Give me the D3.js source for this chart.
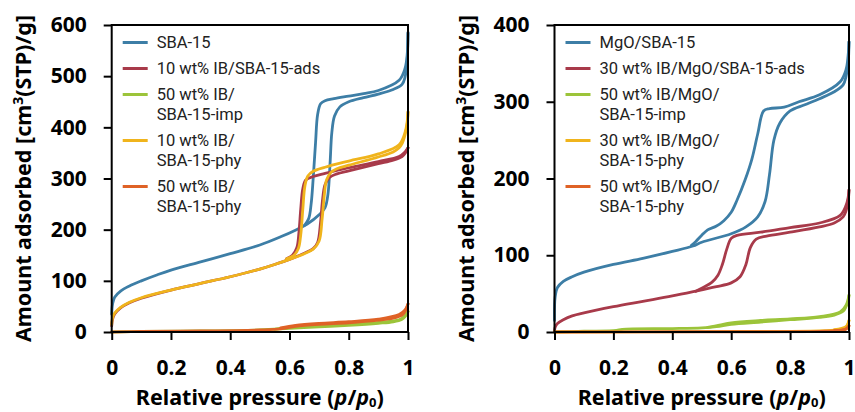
<!DOCTYPE html>
<html>
<head>
<meta charset="utf-8">
<script src="https://cdn.jsdelivr.net/npm/d3@7"></script>
<style>
  body { margin: 0; background: #fff; }
  svg { display: block; }
  .tick text { font-family: "Noto Sans", sans-serif; font-weight: bold; }
</style>
</head>
<body>
<script>
// axis ticks
var pTicks = [0, 0.2, 0.4, 0.6, 0.8, 1];
var leftYTicks = [0, 100, 200, 300, 400, 500, 600];
var rightYTicks = [0, 100, 200, 300, 400];

var palette = ["#3d7ea6", "#a83a4a", "#9cc43a", "#f0b41c", "#df6226"];

var leftLegend = [["SBA-15"], ["10 wt% IB/SBA-15-ads"], ["50 wt% IB/", "SBA-15-imp"],
                  ["10 wt% IB/", "SBA-15-phy"], ["50 wt% IB/", "SBA-15-phy"]];
var rightLegend = [["MgO/SBA-15"], ["30 wt% IB/MgO/SBA-15-ads"], ["50 wt% IB/MgO/", "SBA-15-imp"],
                   ["30 wt% IB/MgO/", "SBA-15-phy"], ["50 wt% IB/MgO/", "SBA-15-phy"]];

// left panel isotherms [p/p0, cm3/g], adsorption and desorption branches
var sba15Ads = [[0,35],[0.003,55],[0.01,68],[0.03,80],[0.06,90],[0.1,100],[0.15,111],[0.2,121],[0.3,137],[0.4,153],
  [0.5,170],[0.57,186],[0.62,199],[0.66,211],[0.7,229],[0.72,243],[0.73,270],[0.737,330],[0.743,390],[0.752,422],
  [0.77,440],[0.8,450],[0.85,458],[0.9,465],[0.95,474],[0.98,484],[0.99,498],[0.997,530],[1,585]];
var sba15Des = [[1,585],[0.997,540],[0.99,515],[0.97,492],[0.9,472],[0.85,466],[0.8,461],[0.75,456],[0.72,452],
  [0.705,446],[0.695,425],[0.688,370],[0.68,300],[0.673,250],[0.665,222],[0.65,208]];
var ib10AdsA = [[0,12],[0.003,25],[0.01,35],[0.03,47],[0.06,57],[0.1,66],[0.2,82],[0.3,95],[0.4,108],[0.5,123],
  [0.55,132],[0.6,142],[0.65,154],[0.68,163],[0.695,175],[0.705,215],[0.712,260],[0.72,288],[0.735,302],[0.76,309],
  [0.8,315],[0.9,329],[0.95,336],[0.98,343],[0.99,349],[1,360]];
var ib10AdsD = [[1,360],[0.99,352],[0.97,343],[0.9,333],[0.8,321],[0.72,310],[0.68,304],[0.655,297],[0.645,280],
  [0.638,240],[0.632,195],[0.625,165],[0.61,150],[0.59,143]];
var ib50ImpA = [[0,0],[0.1,1],[0.3,2],[0.5,4],[0.6,7],[0.7,10],[0.8,13],[0.9,17],[0.95,20],[0.98,25],[0.99,30],[1,40]];
var ib50ImpD = [[1,40],[0.99,32],[0.97,24],[0.9,19],[0.8,15],[0.7,12],[0.6,9],[0.55,5]];
var ib10PhyA = [[0,15],[0.003,28],[0.01,37],[0.03,48],[0.06,58],[0.1,67],[0.2,82],[0.3,95],[0.4,108],[0.5,123],
  [0.55,132],[0.6,142],[0.65,153],[0.68,162],[0.7,178],[0.71,220],[0.718,270],[0.725,297],[0.74,312],[0.76,319],
  [0.8,326],[0.9,342],[0.95,352],[0.97,360],[0.98,368],[0.99,385],[0.997,405],[1,430]];
var ib10PhyD = [[1,430],[0.997,410],[0.99,390],[0.97,366],[0.9,348],[0.8,334],[0.72,322],[0.68,314],[0.662,305],
  [0.652,285],[0.645,240],[0.638,190],[0.63,163],[0.615,150],[0.59,143]];
var ib50PhyA = [[0,0],[0.1,1],[0.3,2],[0.5,4],[0.57,6],[0.62,11],[0.7,15],[0.8,18],[0.9,23],[0.95,27],[0.98,33],
  [0.99,40],[1,55]];
var ib50PhyD = [[1,55],[0.99,43],[0.97,34],[0.9,25],[0.8,20],[0.7,17],[0.62,13],[0.57,8]];

// right panel isotherms
var mgoAds = [[0,15],[0.002,45],[0.01,58],[0.03,66],[0.06,72],[0.1,78],[0.2,88],[0.3,96],[0.4,105],[0.47,112],
  [0.5,117],[0.6,128],[0.65,137],[0.69,150],[0.715,170],[0.73,205],[0.745,250],[0.765,272],[0.8,288],[0.85,296],
  [0.9,304],[0.95,313],[0.98,322],[0.99,333],[0.997,350],[1,378]];
var mgoDes = [[1,378],[0.997,360],[0.99,342],[0.97,326],[0.9,309],[0.83,300],[0.78,293],[0.73,291],[0.71,288],
  [0.69,258],[0.67,225],[0.647,198],[0.62,172],[0.6,156],[0.575,145],[0.55,138],[0.52,133],[0.5,126],[0.48,118],
  [0.465,113]];
var mg30AdsA = [[0,2],[0.003,7],[0.01,11],[0.03,16],[0.06,21],[0.1,25],[0.2,33],[0.3,40],[0.4,47],[0.5,55],
  [0.55,59],[0.6,64],[0.63,72],[0.65,88],[0.665,110],[0.685,121],[0.72,125],[0.8,130],[0.9,137],[0.95,142],
  [0.98,150],[0.99,158],[0.997,170],[1,185]];
var mg30AdsD = [[1,185],[0.997,175],[0.99,165],[0.97,152],[0.9,142],[0.8,136],[0.7,130],[0.62,126],[0.6,122],
  [0.585,108],[0.57,88],[0.555,74],[0.535,65],[0.5,57],[0.48,53]];
var mg50ImpA = [[0,0],[0.1,1],[0.21,2],[0.23,3.5],[0.4,4.5],[0.5,5.5],[0.55,7],[0.6,10],[0.7,13],[0.8,16],[0.9,19],
  [0.95,22],[0.98,27],[0.99,33],[0.997,40],[1,48]];
var mg50ImpD = [[1,48],[0.99,35],[0.97,26],[0.9,20],[0.8,17],[0.7,15],[0.6,12],[0.56,9],[0.52,6]];
var mg30PhyA = [[0,0],[0.5,0.5],[0.9,1.5],[0.97,3],[0.99,6],[1,15]];
var mg30PhyD = [[1,15],[0.99,7],[0.95,3]];
var mg50PhyA = [[0,0],[0.5,0.3],[0.9,0.8],[0.97,2],[0.99,4],[1,8]];
var mg50PhyD = [[1,8],[0.99,4],[0.95,2]];

var width = 855, height = 412;
var plotTop = 25, plotBottom = 332;

var svg = d3.select("body").append("svg")
    .attr("width", width)
    .attr("height", height)
    .style("font-family", "'Noto Sans', sans-serif");

function drawPanel(left, right, yMax, yTicks, series, legend, titleX) {
  var x = d3.scaleLinear().domain([0, 1]).range([left, right]);
  var y = d3.scaleLinear().domain([0, yMax]).range([plotBottom, plotTop]);

  var g = svg.append("g");

  var line = d3.line()
      .x(function(d) { return x(d[0]); })
      .y(function(d) { return y(d[1]); })
      .curve(d3.curveCatmullRom.alpha(0.5));

  series.forEach(function(s, i) {
    [s[0], s[1]].forEach(function(branch) {
      g.append("path")
          .datum(branch)
          .attr("d", line)
          .attr("fill", "none")
          .attr("stroke", palette[i])
          .attr("stroke-width", 2.8)
          .attr("stroke-linejoin", "round")
          .attr("stroke-linecap", "round");
    });
  });

  // frame
  g.append("rect")
      .attr("x", left).attr("y", plotTop)
      .attr("width", right - left).attr("height", plotBottom - plotTop)
      .attr("fill", "none").attr("stroke", "#000").attr("stroke-width", 2);

  var xAxis = d3.axisBottom(x).tickValues(pTicks).tickSize(8).tickPadding(20).tickFormat(String);
  var yAxis = d3.axisLeft(y).tickValues(yTicks).tickSize(8).tickPadding(17);

  var gx = g.append("g").attr("transform", "translate(0," + plotBottom + ")").call(xAxis);
  var gy = g.append("g").attr("transform", "translate(" + left + ",0)").call(yAxis);
  [gx, gy].forEach(function(a) {
    a.select(".domain").remove();
    a.selectAll(".tick line").attr("stroke", "#000").attr("stroke-width", 2);
    a.selectAll(".tick text").attr("font-size", 21).attr("fill", "#000");
  });

  // legend
  var yy = 48;
  legend.forEach(function(lines, i) {
    g.append("line")
        .attr("x1", left + 11).attr("x2", left + 36)
        .attr("y1", yy - 5.5).attr("y2", yy - 5.5)
        .attr("stroke", palette[i]).attr("stroke-width", 3);
    var t = g.append("text")
        .attr("x", left + 45).attr("y", yy)
        .attr("font-family", "Roboto, sans-serif")
        .attr("font-size", 16.5).attr("fill", "#222");
    lines.forEach(function(s, k) {
      t.append("tspan").attr("x", left + 45).attr("dy", k ? 20 : 0).text(s);
    });
    yy += lines.length * 20 + 6;
  });

  // axis titles
  var xt = g.append("text")
      .attr("x", (left + right) / 2).attr("y", 405)
      .attr("text-anchor", "middle")
      .attr("font-size", 21.5).attr("font-weight", "bold");
  xt.append("tspan").text("Relative pressure (");
  xt.append("tspan").attr("font-style", "italic").text("p");
  xt.append("tspan").text("/");
  xt.append("tspan").attr("font-style", "italic").text("p");
  xt.append("tspan").attr("font-size", 13).attr("dy", 2).text("0");
  xt.append("tspan").attr("dy", -2).text(")");

  var yt = g.append("text")
      .attr("transform", "translate(" + titleX + "," + ((plotTop + plotBottom) / 2) + ") rotate(-90)")
      .attr("text-anchor", "middle")
      .attr("font-size", 21.5).attr("font-weight", "bold");
  yt.append("tspan").text("Amount adsorbed [cm");
  yt.append("tspan").attr("font-size", 14).attr("dy", -8).text("3");
  yt.append("tspan").attr("dy", 8).text("(STP)/g]");
}

drawPanel(111.7, 408, 600, leftYTicks,
  [[sba15Ads, sba15Des], [ib10AdsA, ib10AdsD], [ib50ImpA, ib50ImpD], [ib10PhyA, ib10PhyD], [ib50PhyA, ib50PhyD]],
  leftLegend, 31);

drawPanel(554.5, 849, 400, rightYTicks,
  [[mgoAds, mgoDes], [mg30AdsA, mg30AdsD], [mg50ImpA, mg50ImpD], [mg30PhyA, mg30PhyD], [mg50PhyA, mg50PhyD]],
  rightLegend, 474);
</script>
</body>
</html>
